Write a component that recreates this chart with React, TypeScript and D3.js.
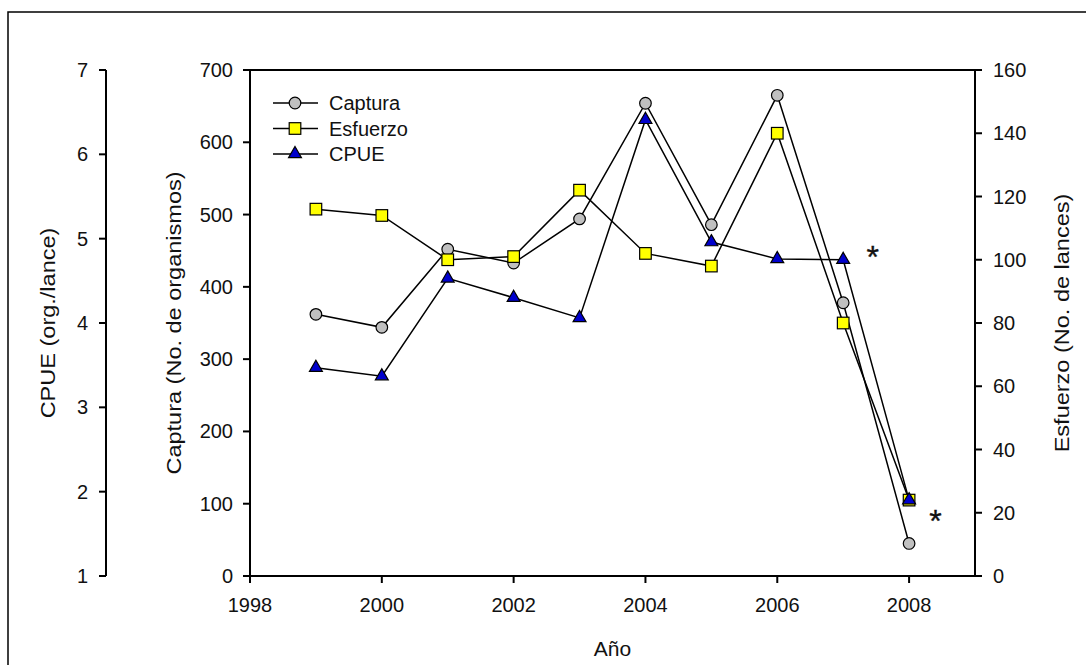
import React from "react";
import * as d3 from "d3";

const years = [1999, 2000, 2001, 2002, 2003, 2004, 2005, 2006, 2007, 2008];
const captura = [362, 344, 452, 433, 494, 654, 486, 665, 378, 45];
const esfuerzo = [116, 114, 100, 101, 122, 102, 98, 140, 80, 24];
const cpue = [3.47, 3.37, 4.53, 4.3, 4.06, 6.41, 4.96, 4.76, 4.75, 1.9];

const xTicks = [1998, 2000, 2002, 2004, 2006, 2008];
const capturaTicks = [0, 100, 200, 300, 400, 500, 600, 700];
const esfuerzoTicks = [0, 20, 40, 60, 80, 100, 120, 140, 160];
const cpueTicks = [1, 2, 3, 4, 5, 6, 7];

const legendItems = ["Captura", "Esfuerzo", "CPUE"];
const asterisks = [
  { year: 2007.45, cpue: 4.85 },
  { year: 2008.4, cpue: 1.72 },
];

const W = 1086;
const H = 665;
const left = 250;
const right = 975;
const top = 70;
const bottom = 576;
const cpueAxisX = 106;

const FONT = "'Liberation Sans', Arial, sans-serif";
const FS = 20;
const TFS = 21;
const TSTRETCH = 1.12;

export default function App() {
  const x = d3.scaleLinear().domain([1998, 2009]).range([left, right]);
  const yCap = d3.scaleLinear().domain([0, 700]).range([bottom, top]);
  const yEsf = d3.scaleLinear().domain([0, 160]).range([bottom, top]);
  const yCpue = d3.scaleLinear().domain([1, 7]).range([bottom, top]);

  const lineCap = d3.line<number>().x((_, i) => x(years[i])).y((d) => yCap(d));
  const lineEsf = d3.line<number>().x((_, i) => x(years[i])).y((d) => yEsf(d));
  const lineCpue = d3.line<number>().x((_, i) => x(years[i])).y((d) => yCpue(d));

  const tri = d3.symbol().type(d3.symbolTriangle).size(72)();

  const circle = (cx: number, cy: number, k: string | number) => (
    <circle key={k} cx={cx} cy={cy} r={5.8} fill="#c0c0c0" stroke="#000" strokeWidth={1.2} />
  );
  const square = (cx: number, cy: number, k: string | number) => (
    <rect key={k} x={cx - 5.8} y={cy - 5.8} width={11.6} height={11.6} fill="#ffff00" stroke="#000" strokeWidth={1.2} />
  );
  const triangle = (cx: number, cy: number, k: string | number) => (
    <path key={k} d={tri || ""} transform={`translate(${cx},${cy})`} fill="#0000cc" stroke="#000" strokeWidth={1.2} />
  );
  const markers = [circle, square, triangle];

  const midY = (top + bottom) / 2;

  return (
    <svg width={W} height={H} style={{ position: "absolute", left: 0, top: 0 }} fontFamily={FONT}>
      <rect x={0} y={0} width={W} height={H} fill="#fff" />
      <rect x={8} y={12} width={W + 20} height={H + 20} fill="none" stroke="#000" strokeWidth={1.5} />

      {/* frame */}
      <path d={`M${left},${bottom}V${top}H${right}V${bottom}Z`} fill="none" stroke="#000" strokeWidth={2} />

      {/* x axis */}
      {xTicks.map((t) => (
        <g key={t}>
          <line x1={x(t)} x2={x(t)} y1={bottom} y2={bottom + 7} stroke="#000" strokeWidth={2} />
          <text x={x(t)} y={bottom + 36} textAnchor="middle" fontSize={FS} fill="#111">{t}</text>
        </g>
      ))}
      <text x={(left + right) / 2} y={656} textAnchor="middle" fontSize={TFS} fill="#111">Año</text>

      {/* captura axis */}
      {capturaTicks.map((t) => (
        <g key={t}>
          <line x1={left - 7} x2={left} y1={yCap(t)} y2={yCap(t)} stroke="#000" strokeWidth={2} />
          <text x={left - 17} y={yCap(t) + 7} textAnchor="end" fontSize={FS} fill="#111">{t}</text>
        </g>
      ))}
      <text transform={`translate(${181},${midY}) rotate(-90) scale(${TSTRETCH},1)`} textAnchor="middle" fontSize={TFS} fill="#111">
        Captura (No. de organismos)
      </text>

      {/* esfuerzo axis */}
      {esfuerzoTicks.map((t) => (
        <g key={t}>
          <line x1={right} x2={right + 7} y1={yEsf(t)} y2={yEsf(t)} stroke="#000" strokeWidth={2} />
          <text x={right + 18} y={yEsf(t) + 7} textAnchor="start" fontSize={FS} fill="#111">{t}</text>
        </g>
      ))}
      <text transform={`translate(${1069},${midY}) rotate(-90) scale(${TSTRETCH},1)`} textAnchor="middle" fontSize={TFS} fill="#111">
        Esfuerzo (No. de lances)
      </text>

      {/* cpue axis */}
      <line x1={cpueAxisX} x2={cpueAxisX} y1={top} y2={bottom} stroke="#000" strokeWidth={2} />
      {cpueTicks.map((t) => (
        <g key={t}>
          <line x1={cpueAxisX - 7} x2={cpueAxisX} y1={yCpue(t)} y2={yCpue(t)} stroke="#000" strokeWidth={2} />
          <text x={cpueAxisX - 18} y={yCpue(t) + 7} textAnchor="end" fontSize={FS} fill="#111">{t}</text>
        </g>
      ))}
      <text transform={`translate(${55},${midY}) rotate(-90) scale(${TSTRETCH},1)`} textAnchor="middle" fontSize={TFS} fill="#111">
        CPUE (org./lance)
      </text>

      {/* series */}
      <path d={lineCap(captura) || ""} fill="none" stroke="#000" strokeWidth={1.5} />
      {captura.map((d, i) => circle(x(years[i]), yCap(d), "c" + i))}
      <path d={lineEsf(esfuerzo) || ""} fill="none" stroke="#000" strokeWidth={1.5} />
      {esfuerzo.map((d, i) => square(x(years[i]), yEsf(d), "s" + i))}
      <path d={lineCpue(cpue) || ""} fill="none" stroke="#000" strokeWidth={1.5} />
      {cpue.map((d, i) => triangle(x(years[i]), yCpue(d), "t" + i))}

      {/* asterisks */}
      {asterisks.map((a, i) => (
        <text key={i} x={x(a.year)} y={yCpue(a.cpue) + 17} textAnchor="middle" fontSize={32} fill="#111" stroke="#111" strokeWidth={0.4}>*</text>
      ))}

      {/* legend */}
      {legendItems.map((name, i) => {
        const ly = 103 + i * 25.5;
        return (
          <g key={name}>
            <line x1={273} x2={318} y1={ly} y2={ly} stroke="#000" strokeWidth={1.5} />
            {markers[i](295, ly, "l" + i)}
            <text x={329} y={ly + 7} fontSize={FS} fill="#111">{name}</text>
          </g>
        );
      })}
    </svg>
  );
}
